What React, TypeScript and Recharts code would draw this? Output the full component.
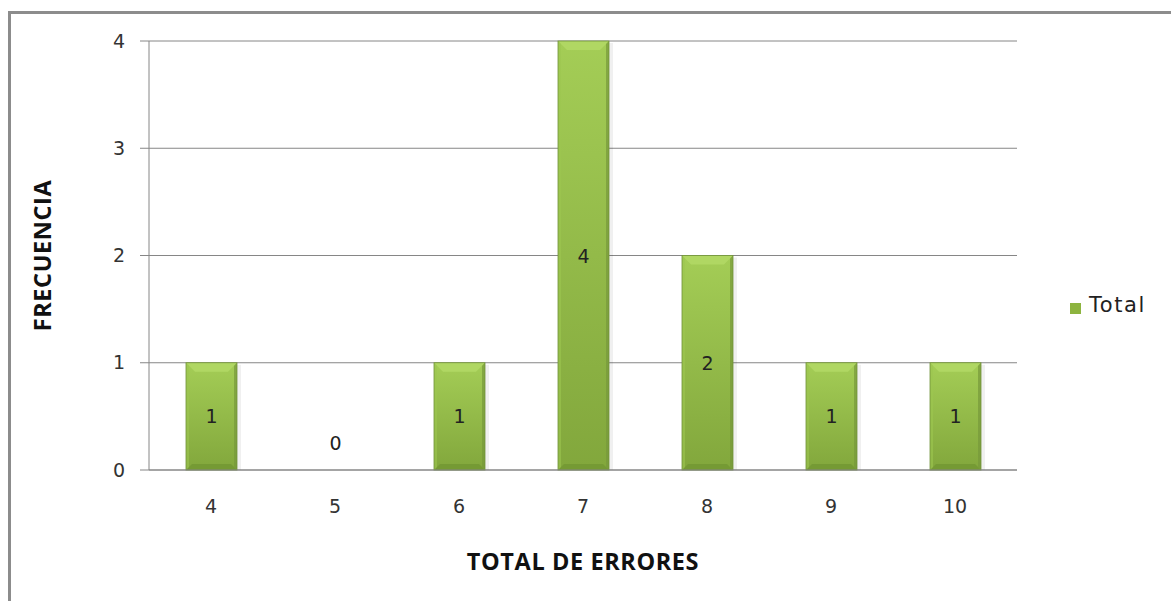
import React from 'react';
import { BarChart, Bar, XAxis, YAxis, CartesianGrid, Legend, LabelList, Label } from 'recharts';

const categories = ['4', '5', '6', '7', '8', '9', '10'];
const totals = [1, 0, 1, 4, 2, 1, 1];
const yTicks = [0, 1, 2, 3, 4];

const data = categories.map((c, i) => ({ name: c, Total: totals[i] }));

const GRAY = '#868686';
const TICK_FONT = { fontFamily: 'DejaVu Sans', fontSize: 19, fill: '#333' };
const TITLE_STYLE = { fontFamily: 'Open Sans', fontWeight: 700, fontSize: 23.5, letterSpacing: 0.6, fill: '#111' };

const BevelBar = (props: any) => {
  const { x, y, width, height } = props;
  if (!height || height <= 0) return null;
  const b = Math.min(9, height / 2);
  const bb = Math.min(6, height / 2);
  return (
    <g>
      <rect x={x + width} y={y + 2} width={4} height={height - 2} fill="rgba(0,0,0,0.06)" />
      <rect x={x} y={y} width={width} height={height} fill="url(#barBody)" />
      <polygon points={`${x},${y} ${x + width},${y} ${x + width - b},${y + b} ${x + b},${y + b}`} fill="#b0d763" />
      <polygon points={`${x},${y + height} ${x + width},${y + height} ${x + width - bb},${y + height - bb} ${x + bb},${y + height - bb}`} fill="#759a34" />
      <polygon points={`${x},${y} ${x + 3},${y + 3} ${x + 3},${y + height - 3} ${x},${y + height}`} fill="#9cc650" opacity={0.6} />
      <polygon points={`${x + width},${y} ${x + width - 3},${y + 3} ${x + width - 3},${y + height - 3} ${x + width},${y + height}`} fill="#76993a" opacity={0.7} />
      <rect x={x} y={y} width={width} height={height} fill="none" stroke="#71923a" strokeWidth={0.8} />
    </g>
  );
};

const ValueLabel = (props: any) => {
  const { x, y, width, height, value } = props;
  const cx = x + width / 2;
  const cy = value === 0 ? y - 27 : y + height / 2;
  return (
    <text x={cx} y={cy} textAnchor="middle" dominantBaseline="central" {...TICK_FONT} fill="#222">
      {value}
    </text>
  );
};

export default function App() {
  return (
    <div style={{ position: 'fixed', left: 0, top: 0, width: 1171, height: 601, overflow: 'hidden', background: '#fff' }}>
      <div style={{ position: 'absolute', left: 8, top: 11, width: 1170, height: 600, borderTop: '3px solid #8c8c8c', borderLeft: '3px solid #8c8c8c' }} />
      <BarChart width={1171} height={601} data={data} margin={{ top: 41, right: 44, bottom: 0, left: 0 }}>
        <defs>
          <linearGradient id="barBody" x1="0" y1="0" x2="0" y2="1">
            <stop offset="0%" stopColor="#a4cd56" />
            <stop offset="100%" stopColor="#82a73c" />
          </linearGradient>
        </defs>
        <CartesianGrid vertical={false} stroke={GRAY} />
        <XAxis
          dataKey="name"
          height={131}
          axisLine={{ stroke: GRAY }}
          tickLine={false}
          tickSize={0}
          tickMargin={30}
          tick={TICK_FONT}
        >
          <Label value="TOTAL DE ERRORES" position="insideBottom" offset={31} style={TITLE_STYLE} />
        </XAxis>
        <YAxis
          width={149}
          domain={[0, 4]}
          ticks={yTicks}
          axisLine={{ stroke: GRAY }}
          tickLine={{ stroke: GRAY }}
          tickSize={9}
          tickMargin={15}
          tick={TICK_FONT}
        >
          <Label value="FRECUENCIA" angle={-90} position="center" dx={-32} style={{ ...TITLE_STYLE, textAnchor: 'middle' }} />
        </YAxis>
        <Legend
          layout="horizontal"
          verticalAlign="middle"
          align="right"
          iconType="square"
          iconSize={11}
          formatter={(v: string) => <span style={{ color: '#222', fontFamily: 'DejaVu Sans', fontSize: 21, letterSpacing: 1.6, marginLeft: 4 }}>{v}</span>}
          wrapperStyle={{ left: 1046, right: 'auto', top: 293, width: 110 }}
        />
        <Bar dataKey="Total" fill="#8db43f" barSize={51} isAnimationActive={false} shape={<BevelBar />}>
          <LabelList dataKey="Total" content={<ValueLabel />} />
        </Bar>
      </BarChart>
    </div>
  );
}
